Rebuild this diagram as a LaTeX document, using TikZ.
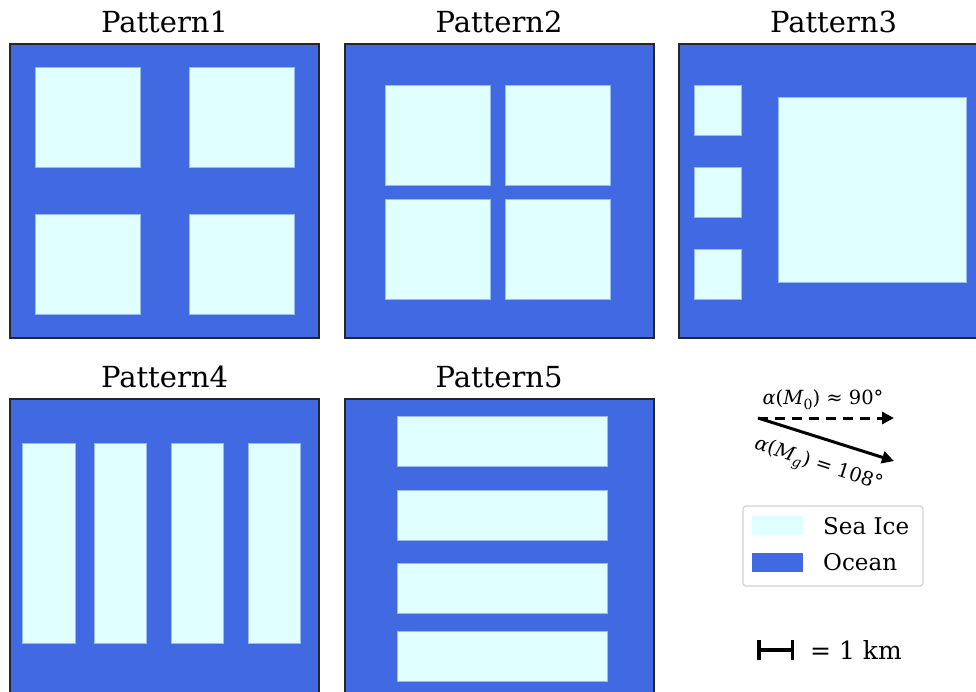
\documentclass[tikz,border=0pt]{standalone}
\usepackage{fontspec}
\setmainfont{DejaVu Serif}
\usepackage{tikz}
\usetikzlibrary{arrows.meta,positioning}
\definecolor{oceanblue}{HTML}{4169E1}
\definecolor{iceblue}{HTML}{E0FFFF}
\tikzstyle{ocean}=[draw=black!85,fill=oceanblue,line width=1.3pt]
\tikzstyle{ice}=[draw=oceanblue!45!iceblue,fill=iceblue,line width=0.6pt]
\tikzstyle{title}=[font=\fontsize{29}{32}\selectfont,anchor=base,inner sep=0pt]
\tikzstyle{legtext}=[font=\fontsize{23}{26}\selectfont,anchor=west,inner sep=0pt]
\tikzstyle{anglabel}=[font=\fontsize{19.5}{22}\selectfont,inner sep=0pt]
\tikzstyle{windarrow}=[line width=3pt,-{Triangle[length=12pt,width=12pt]}]

\begin{document}
\begin{tikzpicture}[x=1pt,y=-1pt]
    \useasboundingbox (0,0) rectangle (976,691);
    % Draw the five panels with their titles
    \foreach \pos in {(10,44), (345,44), (679,44), (10,399), (345,399)}
        \path[ocean] \pos rectangle ++(309,294);
    \foreach \name/\cx/\cy in {Pattern1/164.5/32, Pattern2/499/32, Pattern3/833.5/32, Pattern4/164.5/387, Pattern5/499/387}
        \node[title] (\name) at (\cx,\cy) {\name};
    % Then the sea ice floes
    \foreach \a/\b in {{(35,67)/(140,167)}, {(189,67)/(294,167)}, {(35,214)/(140,314)}, {(189,214)/(294,314)},
                       {(385,85)/(490,185)}, {(505,85)/(610,185)}, {(385,199)/(490,299)}, {(505,199)/(610,299)},
                       {(694,85)/(741,135)}, {(694,167)/(741,217)}, {(694,249)/(741,299)}, {(778,97)/(966,282)},
                       {(22,443)/(75,643)}, {(94,443)/(146,643)}, {(171,443)/(223,643)}, {(248,443)/(300,643)},
                       {(397,416)/(607,466)}, {(397,490)/(607,540)}, {(397,563)/(607,613)}, {(397,631)/(607,681)}}
        \path[ice] \a rectangle \b;
    % Wind angle arrows
    \coordinate (origin) at (758,418);
    \coordinate (mzero) at (894,418);
    \coordinate (mg) at (894,461);
    \draw[windarrow,dash pattern=on 10pt off 7pt] (origin) -- (mzero);
    \draw[windarrow] (origin) -- (mg);
    \node[anglabel] (lblzero) at (823,400) {\textit{α}(\textit{M}\raisebox{-0.25em}{\fontsize{14}{15}\selectfont 0}) ≈ 90°};
    \node[anglabel,rotate=-18] (lblg) at (818,466) {\textit{α}(\textit{M}\raisebox{-0.25em}{\fontsize{14}{15}\selectfont\textit{g}}) = 108°};
    % Legend
    \node[draw=black!18,line width=1.2pt,rounded corners=3pt,minimum width=180pt,minimum height=80pt] (legend) at (833,546) {};
    \path[fill=iceblue] (752,516) rectangle (803,535);
    \path[fill=oceanblue] (752,553) rectangle (803,572);
    \node[legtext] (seaice) at (823,526) {Sea Ice};
    \node[legtext] (oceantxt) at (823,562) {Ocean};
    % Scale bar
    \coordinate (barl) at (757,650);
    \coordinate (barr) at (794,650);
    \draw[line width=3.5pt,{Bar[width=20pt]}-{Bar[width=20pt]}] (barl) -- (barr);
    \node[legtext,font=\fontsize{25}{28}\selectfont] (scale) at (810,650) {= 1 km};
\end{tikzpicture}
\end{document}
